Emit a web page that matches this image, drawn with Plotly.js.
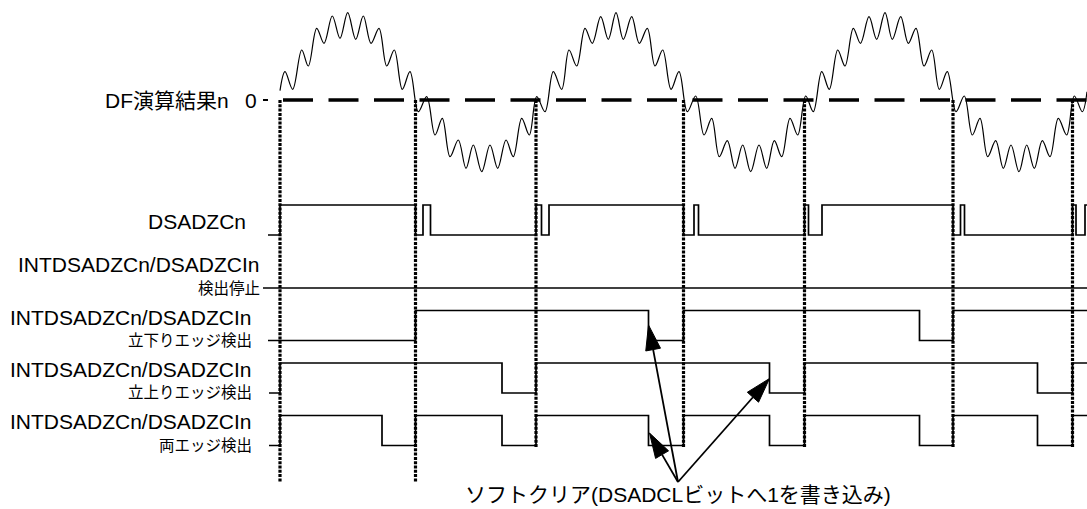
<!DOCTYPE html>
<html><head><meta charset="utf-8">
<script src="https://cdn.plot.ly/plotly-3.0.1.min.js"></script>
<style>html,body{margin:0;padding:0;background:#fff}#chart{width:1087px;height:509px}</style>
</head><body><div id="chart"></div>
<script>
// ---------- DATA (time axis in diagram units) ----------
// Analog DF result: local extrema of the rippled sine (time, value above zero)
const waveT = [280,285,292.7,301.7,308.3,316.7,324,332.3,340,347.7,355.7,363.3,371,379,386.7,394.3,402.3,410,418.3,426.7,435,442.3,450,458.3,466,473.3,481.7,490,497.7,506,513.3,521.7,529.3,536.7,545,553.3,561.7,569,576.7,585,592.3,600.7,608.3,616,623.3,631.7,639.3,647.3,655,662.7,671,679,687.3,695.7,704,711.7,719.3,727.3,735,742.7,750.7,759,766.7,774.3,781.7,790,797.7,805.7,813.3,821.7,829.3,837.7,845,853.3,860.5,869,876.7,885,892.3,900.7,908.3,916,924,931.7,939.3,947.3,956,964.3,972.3,980,987.7,995.7,1003.3,1011,1019,1026.7,1034.3,1042.3,1050,1058.3,1066.7,1074.3,1082.3,1087];
const waveV = [9.3,28.3,10.7,50,34,71.7,56.7,84,61.7,87.3,60.7,84,56.7,71.7,34,50,10.7,28.3,-11.7,3.3,-35,-18.3,-56.7,-40,-68.3,-45,-71.7,-45,-68.3,-40,-56.7,-18.3,-35,3.3,-11.7,28.3,10.7,50,34,71.7,56.7,83.3,60.7,87.3,60.7,83.3,56.7,71.7,34,50,10.7,28.3,-11.7,4,-35,-18.3,-56.7,-40.7,-68.3,-45,-71.7,-45,-68.3,-40.7,-56.7,-18.3,-35,4,-11.7,28.3,10.7,50,34,71.7,56.7,83.3,60.7,87.3,60.7,83.3,56.7,71.7,34,50,10.7,28.3,-11.7,4,-35,-18.3,-56.7,-40.7,-68.3,-45,-71.7,-45,-68.3,-40.7,-56.7,-18.3,-35,4,-11.7,8.3];

// Zero-crossing instants (dotted reference lines)
const crossT = [280, 415.5, 536, 683.5, 804.5, 953, 1072.5];

// Digital signals: edge times and levels (0 = low, 1 = high)
const dsadzcnT = [268,280,415.5,423,430.5,536,541.5,549,683.5,694,698.5,804.5,808.5,822,953,960.5,964.5,1072.5,1076,1085,1087];
const dsadzcnV = [0,1,0,1,0,1,0,1,0,1,0,1,0,1,0,1,0,1,0,1,1];
const stopT = [263,1087];
const stopV = [0,0];
const fallT = [268,415.5,648.5,683.5,919.5,953,1087];
const fallV = [0,1,0,1,0,1,1];
const riseT = [269,280,502,536,769.5,804.5,1037.5,1072.5,1087];
const riseV = [0,1,0,1,0,1,0,1,1];
const bothT = [269,280,382,415.5,502,536,648.5,683.5,769.5,804.5,919.5,953,1037.5,1072.5,1087];
const bothV = [0,1,0,1,0,1,0,1,0,1,0,1,0,1,1];

// Texts
const dfLabel = "DF演算結果n";
const zeroLabel = "0";
const dsadzcnLabel = "DSADZCn";
const sigName = "INTDSADZCn/DSADZCIn";
const modeLabels = ["検出停止", "立下りエッジ検出", "立上りエッジ検出", "両エッジ検出"];
const noteLabel = "ソフトクリア(DSADCLビットへ1を書き込み)";

// ---------- LAYOUT (positions / styles) ----------
const W = 1087, H = 509;
const zeroY = 100;
const amp = 30;
const rows = [
  {t: dsadzcnT, v: dsadzcnV, base: 235},
  {t: stopT, v: stopV, base: 288},
  {t: fallT, v: fallV, base: 340.5},
  {t: riseT, v: riseV, base: 393},
  {t: bothT, v: bothV, base: 445.5}
];
const FONT = "Liberation Sans, Arial, Noto Sans CJK JP, sans-serif";
const ink = "#000";

const traces = [];
// analog wave
traces.push({
  x: waveT, y: waveV.map(v => zeroY - v), mode: "lines",
  line: {color: ink, width: 1.2, shape: "spline", smoothing: 1},
  hoverinfo: "skip", showlegend: false
});
// digital rows
rows.forEach(r => {
  traces.push({
    x: r.t, y: r.v.map(v => r.base - v * amp), mode: "lines",
    line: {color: ink, width: 1.7, shape: "hv"},
    hoverinfo: "skip", showlegend: false
  });
});

const shapes = [];
// dashed zero line
shapes.push({type: "line", xref: "x", yref: "y", x0: 283, x1: W, y0: zeroY, y1: zeroY,
  line: {color: ink, width: 3.5, dash: "30px,15.5px"}});
// zero tick
shapes.push({type: "line", xref: "x", yref: "y", x0: 263, x1: 268, y0: zeroY, y1: zeroY,
  line: {color: ink, width: 2}});
// dotted crossing lines
crossT.forEach((t, i) => {
  shapes.push({type: "line", xref: "x", yref: "y", x0: t, x1: t, y0: zeroY, y1: i < 2 ? 482 : 447,
    line: {color: ink, width: 3.2, dash: "3px,1.3px"}});
});

// arrows
const tail = [678, 482];
const heads = [[648.5, 325], [769.5, 378.5], [649.5, 433]];
const headLen = 25, headHalf = 7.5;
heads.forEach(h => {
  const dx = h[0] - tail[0], dy = h[1] - tail[1];
  const L = Math.hypot(dx, dy), ux = dx / L, uy = dy / L;
  const bx = h[0] - ux * headLen, by = h[1] - uy * headLen;
  const nx = -uy, ny = ux;
  shapes.push({type: "line", xref: "x", yref: "y", x0: tail[0], y0: tail[1], x1: bx, y1: by,
    line: {color: ink, width: 1.8}});
  shapes.push({type: "path", xref: "x", yref: "y",
    path: `M${h[0]},${h[1]} L${bx + nx * headHalf},${by + ny * headHalf} L${bx - nx * headHalf},${by - ny * headHalf} Z`,
    fillcolor: ink, line: {color: ink, width: 1}});
});

const big = {family: FONT, size: 21, color: ink};
const small = {family: FONT, size: 15.5, color: ink};
const ann = [];
function txt(text, x, y, font, xanchor) {
  ann.push({text, x, y, xref: "x", yref: "y", showarrow: false, font,
    xanchor: xanchor || "right", yanchor: "middle"});
}
txt(dfLabel, 231, 100, big);
txt(zeroLabel, 251, 100, big, "center");
txt(dsadzcnLabel, 248, 221, big);
const nameX = [262, 254, 254, 254];
const nameY = [264, 317, 369, 421];
const modeX = [262, 254, 254, 254];
const modeY = [288, 340, 392, 445];
modeLabels.forEach((m, i) => {
  txt(sigName, nameX[i], nameY[i], big);
  txt(m, modeX[i], modeY[i], small);
});
txt(noteLabel, 678, 494, big, "center");

Plotly.newPlot("chart", traces, {
  width: W, height: H,
  margin: {l: 0, r: 0, t: 0, b: 0},
  paper_bgcolor: "#fff", plot_bgcolor: "#fff",
  xaxis: {range: [0, W], visible: false, fixedrange: true},
  yaxis: {range: [H, 0], visible: false, fixedrange: true},
  shapes, annotations: ann, showlegend: false
}, {staticPlot: true, displayModeBar: false});
</script>
</body></html>
